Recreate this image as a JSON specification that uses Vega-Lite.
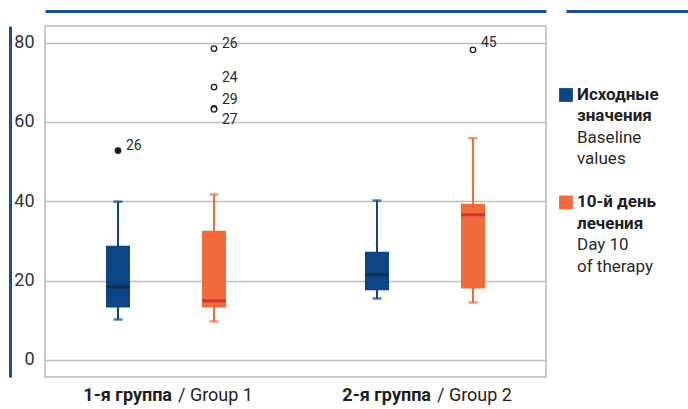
{
  "$schema": "https://vega.github.io/schema/vega-lite/v6.json",
  "padding": {"left": 9, "top": 10, "right": 0, "bottom": 0},
  "background": "white",
  "config": {
    "font": "Roboto",
    "view": {"stroke": "#b9b9b9", "strokeWidth": 1.5},
    "axis": {"labelFont": "Roboto", "titleFont": "Roboto"},
    "text": {"font": "Roboto"}
  },
  "datasets": {
    "stats": [
      {"group": "1-я группа / Group 1", "series": "Исходные значения", "lo": 10.2, "q1": 13.2, "med": 18.4, "q3": 28.8, "hi": 39.9},
      {"group": "1-я группа / Group 1", "series": "10-й день лечения", "lo": 9.7, "q1": 13.2, "med": 14.9, "q3": 32.6, "hi": 41.7},
      {"group": "2-я группа / Group 2", "series": "Исходные значения", "lo": 15.5, "q1": 17.6, "med": 21.5, "q3": 27.3, "hi": 40.2},
      {"group": "2-я группа / Group 2", "series": "10-й день лечения", "lo": 14.5, "q1": 18.0, "med": 36.6, "q3": 39.4, "hi": 55.9}
    ],
    "outliers": [
      {"group": "1-я группа / Group 1", "series": "Исходные значения", "value": 52.8, "case": "26", "labelAt": 54.0},
      {"group": "1-я группа / Group 1", "series": "10-й день лечения", "value": 78.5, "case": "26", "labelAt": 79.7},
      {"group": "1-я группа / Group 1", "series": "10-й день лечения", "value": 68.8, "case": "24", "labelAt": 71.1},
      {"group": "1-я группа / Group 1", "series": "10-й день лечения", "value": 63.4, "case": "29", "labelAt": 65.6},
      {"group": "1-я группа / Group 1", "series": "10-й день лечения", "value": 63.2, "case": "27", "labelAt": 60.5},
      {"group": "2-я группа / Group 2", "series": "10-й день лечения", "value": 78.2, "case": "45", "labelAt": 79.9}
    ],
    "legend": [
      {"series": "Исходные значения", "line": 1, "kind": "ru", "text": "Исходные"},
      {"series": "Исходные значения", "line": 2, "kind": "ru", "text": "значения"},
      {"series": "Исходные значения", "line": 3, "kind": "en", "text": "Baseline"},
      {"series": "Исходные значения", "line": 4, "kind": "en", "text": "values"},
      {"series": "10-й день лечения", "line": 6, "kind": "ru", "text": "10-й день"},
      {"series": "10-й день лечения", "line": 7, "kind": "ru", "text": "лечения"},
      {"series": "10-й день лечения", "line": 8, "kind": "en", "text": "Day 10"},
      {"series": "10-й день лечения", "line": 9, "kind": "en", "text": "of therapy"}
    ]
  },
  "hconcat": [
    {
      "width": 501,
      "height": 351,
      "data": {"name": "stats"},
      "encoding": {
        "x": {"field": "group", "type": "nominal", "sort": null,
              "scale": {"paddingInner": 0.0656, "paddingOuter": 0}},
        "xOffset": {"field": "series", "type": "nominal", "sort": ["Исходные значения", "10-й день лечения"],
                    "scale": {"paddingInner": 0.75, "paddingOuter": 0.6354}}
      },
      "layer": [
        {
          "mark": {"type": "rule", "strokeWidth": 2},
          "encoding": {
            "x": {"field": "group", "type": "nominal", "sort": null,
                  "axis": {"orient": "bottom", "title": null, "domain": false, "ticks": false,
                           "labelExpr": "split(datum.value, ' / ')[0]", "labelAlign": "right", "labelOffset": 6,
                           "labelFontWeight": "bold", "labelFontSize": 18, "labelColor": "#1e1e1e",
                           "labelPadding": 9, "labelAngle": 0, "labelOverlap": false}},
            "y": {"field": "lo", "type": "quantitative",
                  "scale": {"domain": [-4.3, 84.2], "nice": false, "zero": false},
                  "axis": {"orient": "left", "title": null, "values": [0, 20, 40, 60, 80], "domain": false,
                           "ticks": false, "labelPadding": 11, "labelFontSize": 18, "labelColor": "#333333",
                           "grid": true, "gridColor": "#bdbdbd", "gridWidth": 1.5}},
            "y2": {"field": "hi"},
            "color": {"field": "series", "type": "nominal", "legend": null,
                      "scale": {"domain": ["Исходные значения", "10-й день лечения"], "range": ["#0b4585", "#f26a3a"]}}
          }
        },
        {
          "mark": {"type": "bar"},
          "encoding": {
            "x": {"field": "group", "type": "nominal", "sort": null,
                  "axis": {"orient": "bottom", "title": null, "domain": false, "ticks": false,
                           "labelExpr": "'/ ' + split(datum.value, ' / ')[1]", "labelAlign": "left", "labelOffset": 12,
                           "labelFontWeight": "normal", "labelFontSize": 18, "labelColor": "#1e1e1e",
                           "labelPadding": 9, "labelAngle": 0, "labelOverlap": false}},
            "y": {"field": "q1", "type": "quantitative",
                  "axis": {"orient": "left", "offset": 35, "title": null, "labels": false, "ticks": false,
                           "grid": false, "domainColor": "#1d4f8f", "domainWidth": 3}},
            "y2": {"field": "q3"},
            "color": {"field": "series", "type": "nominal", "legend": null,
                      "scale": {"domain": ["Исходные значения", "10-й день лечения"], "range": ["#003f7f", "#f15a29"]}}
          }
        },
        {
          "mark": {"type": "tick", "thickness": 3, "size": 24},
          "encoding": {
            "x": {"field": "group", "type": "nominal", "sort": null,
                  "axis": {"orient": "top", "offset": 15, "title": null, "labels": false, "ticks": false,
                           "grid": false, "domainColor": "#1d4f8f", "domainWidth": 3}},
            "y": {"field": "med", "type": "quantitative", "axis": null},
            "color": {"condition": {"test": "datum.series === 'Исходные значения'", "value": "#1c2433"}, "value": "#c9202f"}
          }
        },
        {
          "mark": {"type": "tick", "thickness": 2.5, "size": 9},
          "encoding": {
            "x": {"field": "group", "type": "nominal", "sort": null, "axis": null},
            "y": {"field": "lo", "type": "quantitative", "axis": null},
            "color": {"field": "series", "type": "nominal", "legend": null}
          }
        },
        {
          "mark": {"type": "tick", "thickness": 2.5, "size": 9},
          "encoding": {
            "x": {"field": "group", "type": "nominal", "sort": null, "axis": null},
            "y": {"field": "hi", "type": "quantitative", "axis": null},
            "color": {"field": "series", "type": "nominal", "legend": null}
          }
        },
        {
          "data": {"name": "outliers"},
          "mark": {"type": "point", "shape": "circle", "size": 30, "strokeWidth": 1.3, "filled": false, "opacity": 1},
          "encoding": {
            "x": {"field": "group", "type": "nominal", "sort": null, "axis": null},
            "y": {"field": "value", "type": "quantitative", "axis": null},
            "stroke": {"value": "#1e1e1e"},
            "fill": {"condition": [
                       {"test": "datum.series === 'Исходные значения'", "value": "#1e1e1e"},
                       {"test": "datum.case === '29'", "value": "#777777"}
                     ], "value": "white"}
          }
        },
        {
          "data": {"name": "outliers"},
          "mark": {"type": "text", "align": "left", "baseline": "middle", "dx": 8, "fontSize": 14, "color": "#2a2a2a"},
          "encoding": {
            "x": {"field": "group", "type": "nominal", "sort": null, "axis": null},
            "y": {"field": "labelAt", "type": "quantitative", "axis": null},
            "text": {"field": "case"}
          }
        }
      ],
      "resolve": {"axis": {"x": "independent", "y": "independent"}}
    },
    {
      "width": 122,
      "height": 351,
      "view": {"stroke": null},
      "data": {"name": "legend"},
      "layer": [
        {
          "transform": [{"filter": "datum.line === 1 || datum.line === 6"}],
          "mark": {"type": "point", "shape": "square", "size": 190, "filled": true, "opacity": 1},
          "encoding": {
            "x": {"datum": 0, "type": "quantitative", "scale": {"domain": [0, 10]},
                  "axis": {"orient": "top", "offset": 15, "title": null, "labels": false, "ticks": false,
                           "grid": false, "domainColor": "#1d4f8f", "domainWidth": 3}},
            "y": {"field": "line", "type": "quantitative", "axis": null,
                  "scale": {"domain": [-2.21, 14.12], "reverse": true, "nice": false, "zero": false}},
            "color": {"field": "series", "type": "nominal", "legend": null,
                      "scale": {"domain": ["Исходные значения", "10-й день лечения"], "range": ["#003f7f", "#f15a29"]}}
          }
        },
        {
          "transform": [{"filter": "datum.kind === 'ru'"}],
          "mark": {"type": "text", "align": "left", "baseline": "middle", "dx": 11, "fontSize": 17, "fontWeight": "bold", "color": "#1e1e1e"},
          "encoding": {
            "x": {"datum": 0, "type": "quantitative"},
            "y": {"field": "line", "type": "quantitative"},
            "text": {"field": "text"}
          }
        },
        {
          "transform": [{"filter": "datum.kind === 'en'"}],
          "mark": {"type": "text", "align": "left", "baseline": "middle", "dx": 11, "fontSize": 17, "fontWeight": "normal", "color": "#2a2a2a"},
          "encoding": {
            "x": {"datum": 0, "type": "quantitative"},
            "y": {"field": "line", "type": "quantitative"},
            "text": {"field": "text"}
          }
        }
      ]
    }
  ],
  "spacing": 12
}
